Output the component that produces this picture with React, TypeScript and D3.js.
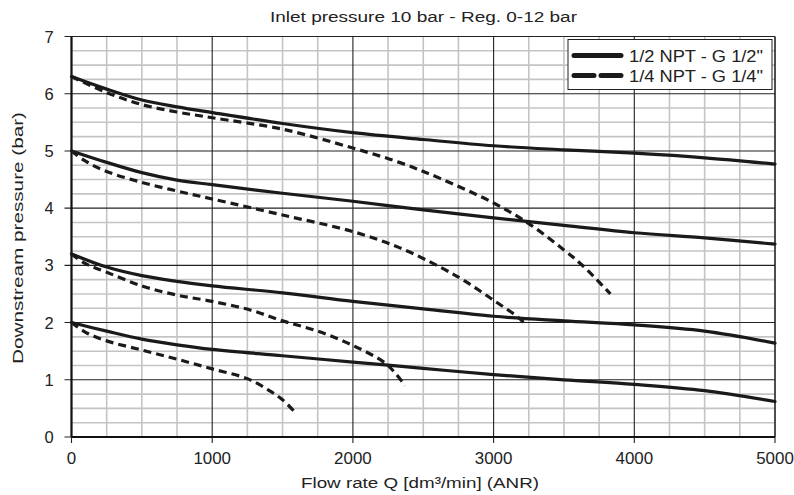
import React from "react";
import * as d3 from "d3";

const W = 794;
const H = 495;
const M = { left: 71.5, right: 19, top: 36.5, bottom: 58 };

const title = "Inlet pressure 10 bar - Reg. 0-12 bar";
const xTitle = "Flow rate Q [dm³/min] (ANR)";
const yTitle = "Downstream pressure (bar)";
const xTicks = [0, 1000, 2000, 3000, 4000, 5000];
const yTicks = [0, 1, 2, 3, 4, 5, 6, 7];
const legendLabels = ['1/2 NPT - G 1/2"', '1/4 NPT - G 1/4"'];

// Solid (1/2 NPT) curves: [flow, pressure]
const solid63: [number, number][] = [[0, 6.3], [250, 6.08], [500, 5.89], [750, 5.77], [1000, 5.67], [1500, 5.48], [2000, 5.32], [2500, 5.2], [3000, 5.09], [3500, 5.02], [4000, 4.96], [4500, 4.88], [5000, 4.77]];
const solid50: [number, number][] = [[0, 5.0], [250, 4.8], [500, 4.62], [750, 4.49], [1000, 4.41], [1500, 4.26], [2000, 4.12], [2500, 3.97], [3000, 3.83], [3500, 3.7], [4000, 3.57], [4500, 3.48], [5000, 3.37]];
const solid32: [number, number][] = [[0, 3.2], [250, 2.97], [500, 2.82], [750, 2.72], [1000, 2.64], [1500, 2.52], [2000, 2.37], [2500, 2.24], [3000, 2.11], [3500, 2.03], [4000, 1.96], [4500, 1.85], [5000, 1.64]];
const solid20: [number, number][] = [[0, 2.0], [250, 1.85], [500, 1.71], [750, 1.61], [1000, 1.53], [1500, 1.42], [2000, 1.31], [2500, 1.2], [3000, 1.09], [3500, 1.0], [4000, 0.92], [4500, 0.81], [5000, 0.62]];

// Dashed (1/4 NPT) curves
const dashed63: [number, number][] = [[0, 6.3], [250, 6.02], [500, 5.81], [750, 5.68], [1000, 5.58], [1500, 5.38], [2000, 5.05], [2330, 4.8], [2620, 4.52], [3000, 4.09], [3250, 3.73], [3500, 3.27], [3640, 2.98], [3830, 2.5]];
const dashed50: [number, number][] = [[0, 5.0], [100, 4.82], [250, 4.64], [500, 4.45], [750, 4.3], [1000, 4.16], [1500, 3.88], [2000, 3.59], [2330, 3.31], [2620, 2.97], [2800, 2.72], [3000, 2.39], [3170, 2.1], [3235, 1.95]];
const dashed32: [number, number][] = [[0, 3.2], [100, 3.03], [250, 2.88], [500, 2.64], [750, 2.48], [1000, 2.37], [1270, 2.22], [1500, 2.03], [1750, 1.85], [2000, 1.6], [2240, 1.27], [2370, 0.9]];
const dashed20: [number, number][] = [[0, 2.0], [100, 1.83], [250, 1.68], [500, 1.52], [750, 1.36], [1000, 1.19], [1250, 1.02], [1400, 0.82], [1500, 0.65], [1590, 0.43]];

const solidSeries = [solid63, solid50, solid32, solid20];
const dashedSeries = [dashed63, dashed50, dashed32, dashed20];

export default function App() {
  const x = d3.scaleLinear().domain([0, 5000]).range([M.left, W - M.right]);
  const y = d3.scaleLinear().domain([0, 7]).range([H - M.bottom, M.top]);
  const line = d3
    .line<[number, number]>()
    .x((d) => x(d[0]))
    .y((d) => y(d[1]))
    .curve(d3.curveCatmullRom.alpha(0.5));

  const minorX = d3.range(0, 5001, 250).filter((v) => v % 1000 !== 0);
  const minorY = d3.range(0, 7.001, 0.25).filter((v) => Math.abs(v - Math.round(v)) > 1e-6);
  const font = "'Liberation Sans', Arial, sans-serif";
  const x0 = M.left, x1 = W - M.right, y0 = H - M.bottom, y1 = M.top;

  const lgX = 568, lgY = 39.5, lgW = 204, lgH = 50;

  return (
    <svg width={W} height={H} style={{ position: "absolute", left: 0, top: 0, background: "#fff" }} fontFamily={font}>
      <rect x={0} y={0} width={W} height={H} fill="#fff" />
      {minorX.map((v) => (
        <line key={"mx" + v} x1={x(v)} x2={x(v)} y1={y0} y2={y1} stroke="#c4c4c4" strokeWidth={1.6} />
      ))}
      {minorY.map((v) => (
        <line key={"my" + v} x1={x0} x2={x1} y1={y(v)} y2={y(v)} stroke="#c4c4c4" strokeWidth={1.6} />
      ))}
      {xTicks.map((v) => (
        <line key={"Mx" + v} x1={x(v)} x2={x(v)} y1={y0 + 6} y2={y1} stroke="#222" strokeWidth={1.1} />
      ))}
      {yTicks.map((v) => (
        <line key={"My" + v} x1={x0 - 7} x2={x1} y1={y(v)} y2={y(v)} stroke="#222" strokeWidth={1.1} />
      ))}
      <line x1={x0} x2={x0} y1={y0} y2={y1} stroke="#111" strokeWidth={2.2} />
      <line x1={x0} x2={x1} y1={y0} y2={y0} stroke="#111" strokeWidth={2.2} />
      <line x1={x1} x2={x1} y1={y0} y2={y1} stroke="#222" strokeWidth={1.1} />
      <line x1={x0} x2={x1} y1={y1} y2={y1} stroke="#222" strokeWidth={1.1} />

      {solidSeries.map((s, i) => (
        <path key={"s" + i} d={line(s) || ""} fill="none" stroke="#1a1a1a" strokeWidth={3.2} strokeLinecap="round" />
      ))}
      {dashedSeries.map((s, i) => (
        <path key={"d" + i} d={line(s) || ""} fill="none" stroke="#1a1a1a" strokeWidth={3.2} strokeDasharray="8 5" />
      ))}

      {xTicks.map((v) => (
        <text key={"xt" + v} x={x(v)} y={464} textAnchor="middle" fontSize={16} fill="#222"
          textLength={String(v).length * 9.4} lengthAdjust="spacingAndGlyphs">
          {v}
        </text>
      ))}
      {yTicks.map((v) => (
        <text key={"yt" + v} x={49} y={y(v) + 6} textAnchor="middle" fontSize={16} fill="#222"
          textLength={9.2} lengthAdjust="spacingAndGlyphs">
          {v}
        </text>
      ))}

      <text x={423.5} y={22} textAnchor="middle" fontSize={15.5} fill="#222" textLength={307} lengthAdjust="spacingAndGlyphs">
        {title}
      </text>
      <text x={420} y={488} textAnchor="middle" fontSize={15.5} fill="#222" textLength={238} lengthAdjust="spacingAndGlyphs">
        {xTitle}
      </text>
      <text transform={`translate(23, 238) rotate(-90)`} textAnchor="middle" fontSize={15.5} fill="#222" textLength={252} lengthAdjust="spacingAndGlyphs">
        {yTitle}
      </text>

      <rect x={lgX} y={lgY} width={lgW} height={lgH} fill="#fff" stroke="#222" strokeWidth={1} />
      <line x1={lgX + 6} x2={lgX + 53} y1={lgY + 16} y2={lgY + 16} stroke="#1a1a1a" strokeWidth={5} strokeLinecap="round" />
      <line x1={lgX + 6} x2={lgX + 53} y1={lgY + 36} y2={lgY + 36} stroke="#1a1a1a" strokeWidth={5} strokeDasharray="20 7" strokeLinecap="round" />
      {legendLabels.map((l, i) => (
        <text key={l} x={629} y={lgY + 22 + i * 20.5} fontSize={16} fill="#222" textLength={134} lengthAdjust="spacingAndGlyphs">
          {l}
        </text>
      ))}
    </svg>
  );
}
